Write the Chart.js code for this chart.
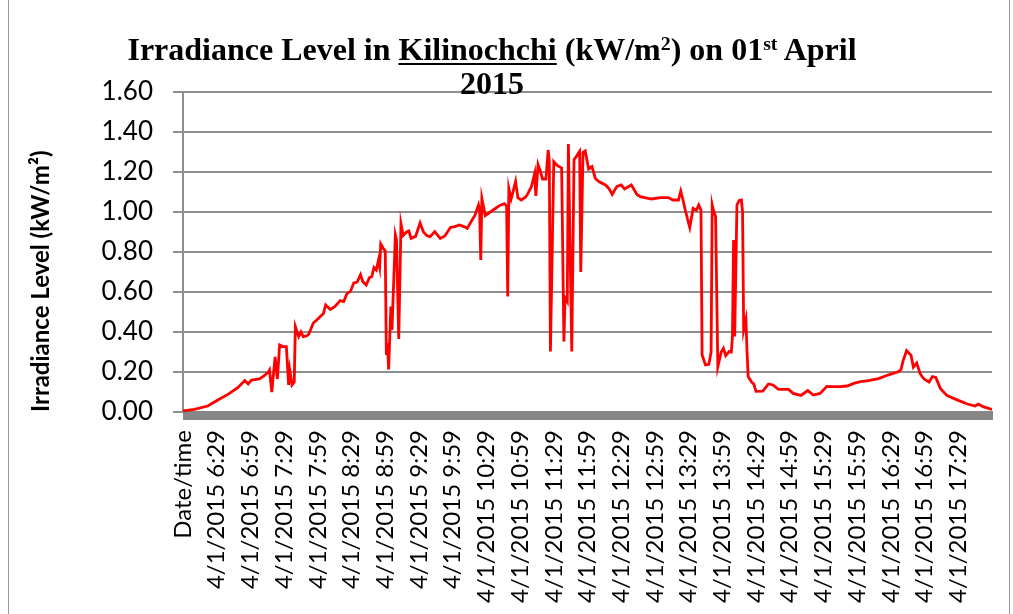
<!DOCTYPE html>
<html>
<head>
<meta charset="utf-8">
<script src="https://cdn.jsdelivr.net/npm/chart.js@4.4.0/dist/chart.umd.min.js"></script>
<style>
html,body{margin:0;padding:0;background:#fff;}
#wrap{position:relative;width:1013px;height:614px;overflow:hidden;background:#fff;}
#title{position:absolute;left:0;width:984px;top:32px;text-align:center;font-family:"Liberation Serif","Times New Roman",serif;font-weight:bold;font-size:32px;line-height:34px;color:#000;white-space:nowrap;z-index:2;}
#title sup{font-size:0.62em;line-height:0;vertical-align:0.5em;}
#title u{text-decoration:underline;text-decoration-thickness:2px;text-underline-offset:3px;}
.edge{position:absolute;top:0;width:1px;height:614px;background:#9a9a9a;}
</style>
</head>
<body>
<div id="wrap">
  <canvas id="c" width="1013" height="614"></canvas>
  <div id="title">Irradiance Level in <u>Kilinochchi</u> (kW/m<sup>2</sup>) on 01<sup>st</sup> April<br>2015</div>
  <div class="edge" style="left:8px"></div>
  <div class="edge" style="left:1009px"></div>
</div>
<script>
// category index along the x axis (0 = "Date/time", 1 = 6:00, ... one per minute)
const minuteIndex = [
  0,10,22,31,40,49,55,58,61,68,72,76,77,79,82,84,86,89,92,94,95,97,99,100,
  103,105,107,110,112,116,120,125,127,131,135,140,143,146,149,152,155,158,160,163,
  166,168,170,172,174,175,176,178,180,181,182,183,185,186,189,190,192,194,196,199,
  201,203,207,211,214,217,220,224,229,233,238,242,246,250,253,255,260,263,264,265,
  266,269,276,282,286,288,289,290,292,294,296,298,301,305,307,310,313,314,316,318,
  320,323,325,326,327,330,333,337,339,340,342,343,346,348,350,353,354,356,358,361,
  364,367,370,376,379,382,386,390,393,399,404,407,414,417,425,432,436,441,443,445,
  447,451,454,457,459,461,462,465,468,470,471,472,474,476,479,481,483,486,488,489,
  490,491,493,495,497,498,499,501,502,503,506,508,510,516,521,525,530,534,539,543,
  550,556,561,567,573,579,585,591,597,603,610,619,628,637,639,641,644,648,650,653,
  656,658,660,664,667,670,674,680,690,698,705,708,712,720
];
// irradiance in kW/m2
const irradiance = [
  0.005,0.013,0.030,0.060,0.088,0.123,0.157,0.140,0.160,0.165,0.180,0.200,0.210,0.100,0.275,0.165,0.335,0.327,0.327,0.135,0.210,0.135,0.150,0.427,
  0.377,0.400,0.377,0.380,0.390,0.445,0.465,0.493,0.535,0.513,0.527,0.557,0.552,0.593,0.603,0.645,0.650,0.687,0.652,0.635,
  0.672,0.677,0.723,0.710,0.760,0.727,0.840,0.820,0.805,0.285,0.343,0.213,0.527,0.410,0.885,0.860,0.365,0.942,0.883,0.900,
  0.905,0.868,0.878,0.945,0.900,0.882,0.877,0.902,0.868,0.880,0.923,0.927,0.935,0.927,0.918,0.938,0.985,1.035,1.010,0.760,
  1.068,0.982,1.010,1.033,1.042,1.030,0.577,1.118,1.065,1.107,1.153,1.072,1.060,1.075,1.093,1.125,1.193,1.080,1.237,1.205,
  1.165,1.165,1.310,1.252,0.302,1.252,1.233,1.220,0.352,0.572,0.552,1.340,0.302,1.262,1.277,1.303,0.700,1.297,1.305,1.215,
  1.227,1.168,1.152,1.135,1.118,1.088,1.127,1.135,1.115,1.135,1.088,1.077,1.068,1.065,1.072,1.072,1.060,1.060,1.105,1.060,
  1.010,0.922,1.018,1.010,1.035,1.010,0.285,0.235,0.238,0.300,1.035,1.010,0.977,0.227,0.300,0.318,0.282,0.302,0.300,0.377,
  0.860,0.377,1.035,1.058,1.060,1.000,0.410,0.463,0.300,0.177,0.150,0.140,0.103,0.104,0.140,0.135,0.113,0.113,0.113,0.093,
  0.083,0.107,0.085,0.093,0.128,0.127,0.127,0.130,0.143,0.152,0.157,0.167,0.186,0.202,0.212,0.258,0.307,0.283,0.225,0.245,
  0.193,0.175,0.163,0.150,0.177,0.173,0.118,0.082,0.058,0.040,0.030,0.040,0.027,0.013
];
// labels shown every 30 categories
const tickLabels = [
  "Date/time","4/1/2015 6:29","4/1/2015 6:59","4/1/2015 7:29","4/1/2015 7:59","4/1/2015 8:29",
  "4/1/2015 8:59","4/1/2015 9:29","4/1/2015 9:59","4/1/2015 10:29","4/1/2015 10:59","4/1/2015 11:29",
  "4/1/2015 11:59","4/1/2015 12:29","4/1/2015 12:59","4/1/2015 13:29","4/1/2015 13:59","4/1/2015 14:29",
  "4/1/2015 14:59","4/1/2015 15:29","4/1/2015 15:59","4/1/2015 16:29","4/1/2015 16:59","4/1/2015 17:29"
];
const labelStep = 30;
const yTicks = [0,0.2,0.4,0.6,0.8,1.0,1.2,1.4,1.6];

const points = minuteIndex.map((m,i)=>({x:m,y:irradiance[i]}));

const axisBar = {
  id:'axisBar',
  beforeDatasetsDraw(chart){
    const {ctx, chartArea:a} = chart;
    ctx.save();
    ctx.fillStyle = '#878787';
    ctx.fillRect(a.left, a.bottom - 1, a.right - a.left + 1, 9);
    ctx.restore();
  }
};

const GRID = '#8e8e8e';
new Chart(document.getElementById('c'), {
  type:'line',
  data:{datasets:[{
    label:'Irradiance',
    data:points,
    borderColor:'#ff0000',
    borderWidth:2.8,
    pointRadius:0,
    tension:0,
    fill:false
  }]},
  options:{
    responsive:false,
    animation:false,
    devicePixelRatio:1,
    layout:{padding:{top:92,right:21,left:10,bottom:0}},
    plugins:{legend:{display:false},tooltip:{enabled:false},title:{display:false}},
    scales:{
      x:{
        type:'linear',
        min:0,max:720,
        grid:{display:false,drawTicks:false},
        border:{display:false},
        afterFit(s){ s.height = 202; },
        afterBuildTicks(s){ s.ticks = tickLabels.map((_,i)=>({value:i*labelStep})); },
        ticks:{
          autoSkip:false,
          maxRotation:90,minRotation:90,
          padding:18,
          color:'#000',
          font:{family:'Lato',size:24},
          callback(v){ const k = Math.round(v/labelStep); return tickLabels[k] ?? ''; }
        }
      },
      y:{
        min:0,max:1.6,
        afterFit(s){ s.width = 173; },
        afterBuildTicks(s){ s.ticks = yTicks.map(v=>({value:v})); },
        grid:{color:GRID,lineWidth:2,tickLength:10,drawTicks:true},
        border:{display:true,color:GRID,width:2},
        ticks:{
          padding:20,
          color:'#000',
          font:{family:'Lato',size:26},
          callback(v){ return Number(v).toFixed(2); }
        },
        title:{
          display:true,
          text:'Irradiance Level (kW/m²)',
          align:'start',
          color:'#000',
          font:{family:'Lato',size:24,weight:'bold'},
          padding:{top:17,bottom:0}
        }
      }
    }
  },
  plugins:[axisBar]
});
</script>
</body>
</html>
